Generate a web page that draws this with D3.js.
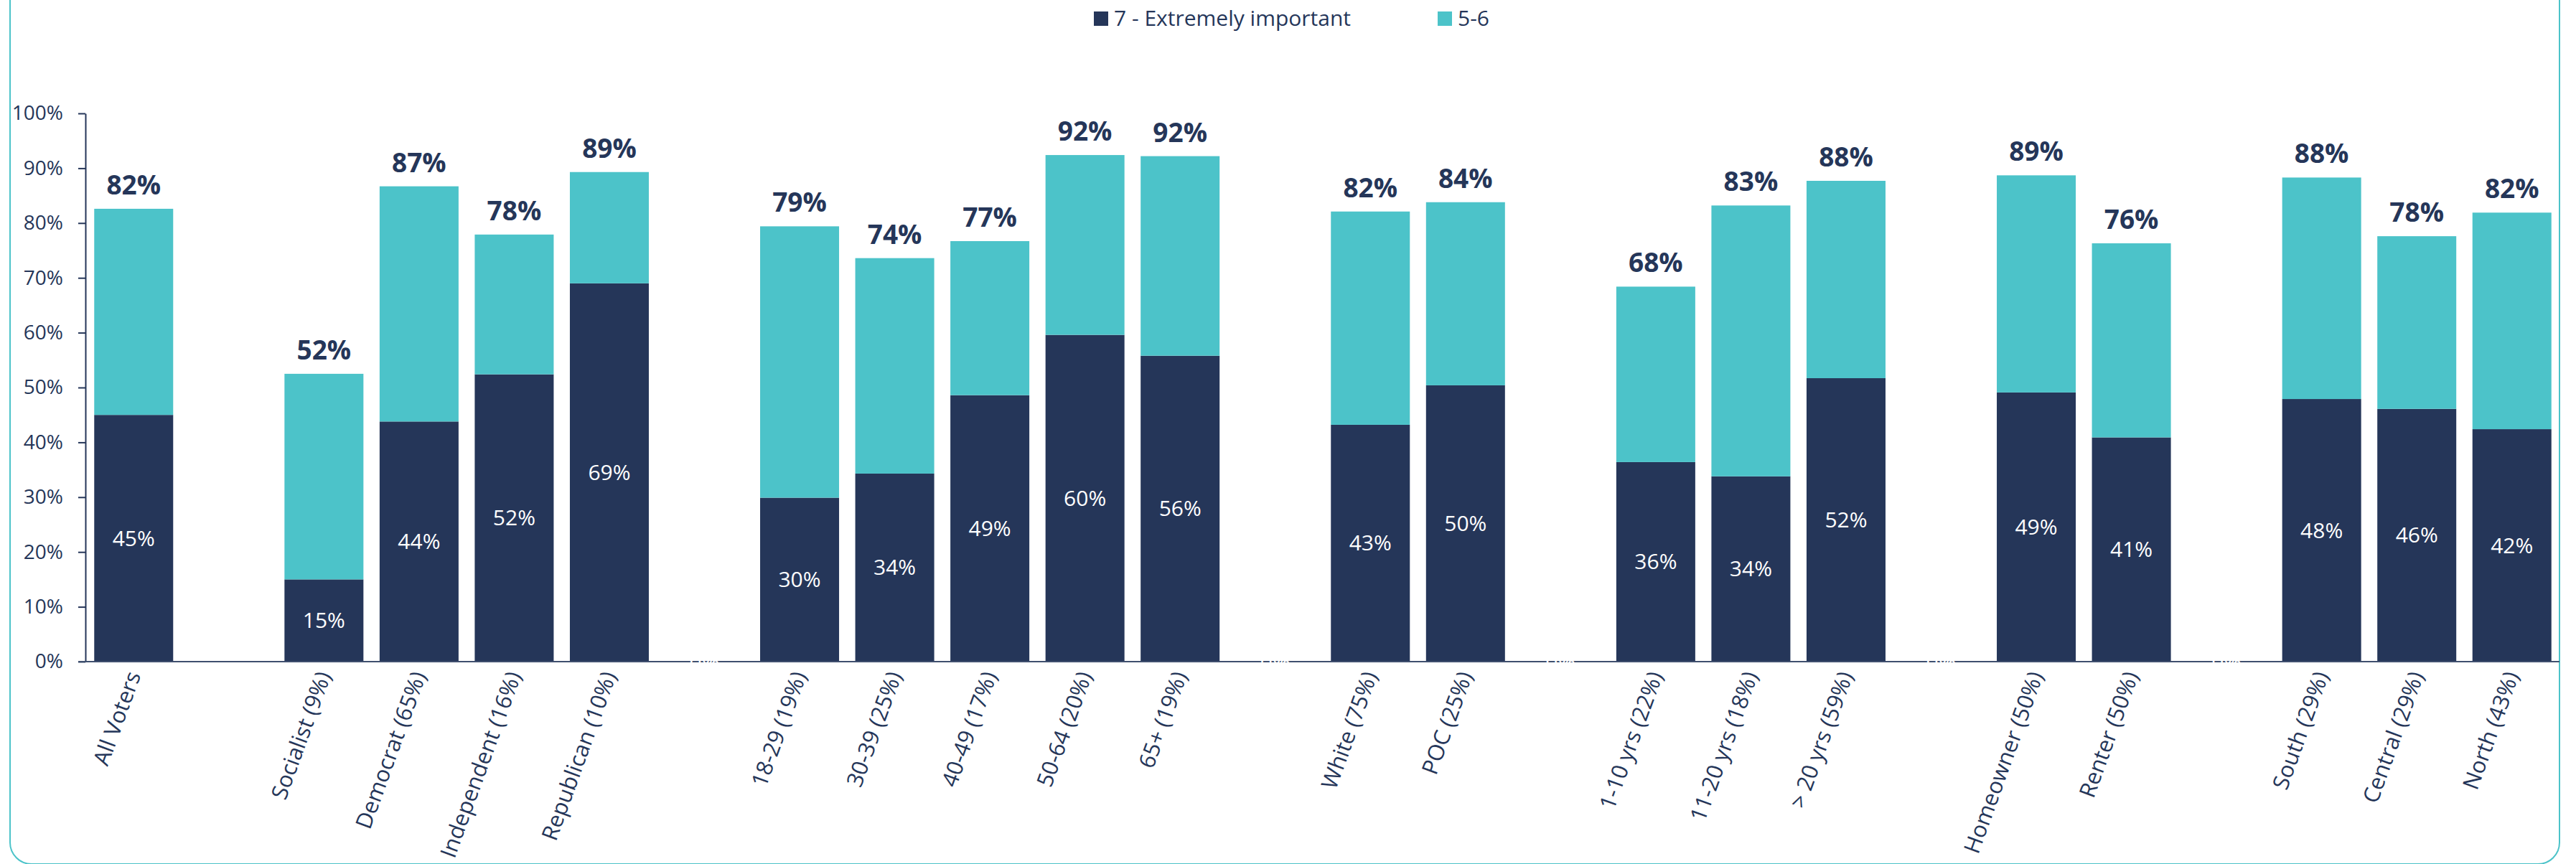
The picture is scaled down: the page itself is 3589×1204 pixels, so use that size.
<!DOCTYPE html>
<html>
<head>
<meta charset="utf-8">
<script src="https://cdn.jsdelivr.net/npm/d3@7"></script>
<style>
  html, body { margin: 0; padding: 0; background: #ffffff; }
  svg { display: block; font-family: "Open Sans", "Noto Sans", sans-serif; }
</style>
</head>
<body>
<svg id="chart" width="3589" height="1204"></svg>
<script>
// ---- data (null = spacer slot between groups) ----
const categories = ["All Voters", null, "Socialist (9%)", "Democrat (65%)", "Independent (16%)", "Republican (10%)", null,
  "18-29 (19%)", "30-39 (25%)", "40-49 (17%)", "50-64 (20%)", "65+ (19%)", null,
  "White (75%)", "POC (25%)", null,
  "1-10 yrs (22%)", "11-20 yrs (18%)", "> 20 yrs (59%)", null,
  "Homeowner (50%)", "Renter (50%)", null,
  "South (29%)", "Central (29%)", "North (43%)"];
const extremelyImportant = [45.0, null, 15.0, 43.8, 52.4, 69.0, 0,
  29.9, 34.3, 48.6, 59.6, 55.8, 0,
  43.2, 50.4, 0,
  36.4, 33.8, 51.7, 0,
  49.1, 40.9, 0,
  47.9, 46.1, 42.4];
const fiveToSix = [37.6, null, 37.5, 42.9, 25.5, 20.3, 0,
  49.5, 39.3, 28.1, 32.8, 36.4, 0,
  38.9, 33.4, 0,
  32.0, 49.4, 36.0, 0,
  39.6, 35.4, 0,
  40.4, 31.5, 39.5];
const totalLabels = ["82%", null, "52%", "87%", "78%", "89%", null,
  "79%", "74%", "77%", "92%", "92%", null,
  "82%", "84%", null,
  "68%", "83%", "88%", null,
  "89%", "76%", null,
  "88%", "78%", "82%"];
const seriesNames = ["7 - Extremely important", "5-6"];
const yTicks = [0, 10, 20, 30, 40, 50, 60, 70, 80, 90, 100];

// ---- styles ----
const NAVY = "#253659";
const TEAL = "#4cc3c9";

const svg = d3.select("#chart");

// outer rounded frame (top edge sits above the visible area)
svg.append("rect")
  .attr("x", 14).attr("y", -60)
  .attr("width", 3552).attr("height", 1264)
  .attr("rx", 30).attr("ry", 30)
  .attr("fill", "none").attr("stroke", TEAL).attr("stroke-width", 2);

const x = d3.scaleBand()
  .domain(d3.range(categories.length))
  .range([120, 3566])
  .paddingInner(0.17)
  .paddingOuter(0.085);

const y = d3.scaleLinear().domain([0, 100]).range([922, 158]);

// bars
const rows = categories.map((c, i) => ({
  i, c, a: extremelyImportant[i], b: fiveToSix[i], t: totalLabels[i]
}));
const real = rows.filter(d => d.c !== null);

const g = svg.append("g");
g.selectAll("rect.dark").data(real).join("rect")
  .attr("class", "dark")
  .attr("x", d => x(d.i)).attr("width", x.bandwidth())
  .attr("y", d => y(d.a)).attr("height", d => y(0) - y(d.a))
  .attr("fill", NAVY);
g.selectAll("rect.teal").data(real).join("rect")
  .attr("class", "teal")
  .attr("x", d => x(d.i)).attr("width", x.bandwidth())
  .attr("y", d => y(d.a + d.b)).attr("height", d => y(d.a) - y(d.a + d.b))
  .attr("fill", TEAL);

// y axis
const yAxis = d3.axisLeft(y).tickValues(yTicks).tickFormat(d => d + "%").tickSize(10).tickSizeOuter(0);
const ya = svg.append("g").attr("transform", "translate(119,0)").call(yAxis);
ya.select(".domain").attr("stroke", NAVY).attr("stroke-width", 2);
ya.selectAll(".tick line").attr("stroke", NAVY).attr("stroke-width", 2);
ya.selectAll(".tick text").attr("fill", NAVY).attr("font-size", 28)
  .attr("font-family", "Open Sans, sans-serif").attr("x", -31);

// x baseline
svg.append("line")
  .attr("x1", 109).attr("x2", 3566)
  .attr("y1", y(0)).attr("y2", y(0))
  .attr("stroke", "#3f4f6e").attr("stroke-width", 2);

// segment labels (white); zero-valued spacer labels included like the source
const labelRows = rows.filter(d => d.a !== null);
svg.append("g").selectAll("text").data(labelRows).join("text")
  .attr("x", d => x(d.i) + x.bandwidth() / 2)
  .attr("y", d => (y(0) + y(d.a)) / 2)
  .attr("dy", "0.35em")
  .attr("text-anchor", "middle")
  .attr("fill", "#ffffff")
  .attr("font-size", 30)
  .text(d => Math.round(d.a) + "%");

// total labels
svg.append("g").selectAll("text").data(real).join("text")
  .attr("x", d => x(d.i) + x.bandwidth() / 2)
  .attr("y", d => y(d.a + d.b) - 20)
  .attr("text-anchor", "middle")
  .attr("fill", NAVY)
  .attr("font-size", 37)
  .attr("font-weight", 700)
  .text(d => d.t);

// category labels
svg.append("g").selectAll("text").data(real).join("text")
  .attr("transform", d => `translate(${x(d.i) + x.bandwidth() / 2},937) rotate(-70)`)
  .attr("dy", "0.35em")
  .attr("text-anchor", "end")
  .attr("fill", NAVY)
  .attr("font-size", 31)
  .text(d => d.c);

// legend
const legend = svg.append("g");
const legendItems = [
  { name: seriesNames[0], color: NAVY, x: 1524 },
  { name: seriesNames[1], color: TEAL, x: 2003 }
];
legendItems.forEach(it => {
  legend.append("rect").attr("x", it.x).attr("y", 16).attr("width", 20).attr("height", 20).attr("fill", it.color);
  legend.append("text").attr("x", it.x + 28).attr("y", 36)
    .attr("fill", NAVY).attr("font-size", 30).text(it.name);
});
</script>
</body>
</html>
